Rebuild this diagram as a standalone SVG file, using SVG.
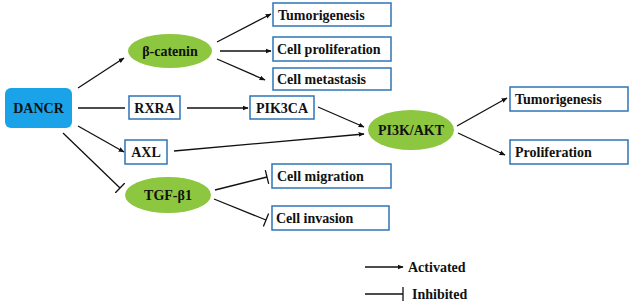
<svg xmlns="http://www.w3.org/2000/svg" width="631" height="304" viewBox="0 0 631 304">
<defs>
<style>
.box{fill:#fff;stroke:#2E75B6;stroke-width:1.5}
.ell{fill:#8DC63F;stroke:none}
.t{font-family:"Liberation Serif","Times New Roman",serif;font-weight:bold;font-size:14px;fill:#111}
.c{text-anchor:middle}
.ln{stroke:#111;stroke-width:1.3;fill:none}
.act{marker-end:url(#arr)}
.inh{marker-end:url(#bar)}
</style>
<marker id="arr" viewBox="0 0 10 10" refX="9" refY="5" markerWidth="6" markerHeight="6" markerUnits="userSpaceOnUse" orient="auto">
<path d="M0,1 L10,5 L0,9 Z" fill="#111"/>
</marker>
<marker id="bar" viewBox="0 0 4 14" refX="2" refY="7" markerWidth="4" markerHeight="14" markerUnits="userSpaceOnUse" orient="auto">
<line x1="2" y1="0" x2="2" y2="14" stroke="#111" stroke-width="1.3"/>
</marker>
</defs>
<rect width="631" height="304" fill="#fff"/>
<g id="connectors">
<line class="ln act" x1="78" y1="88" x2="124" y2="58"/>
<line class="ln act" x1="217" y1="42" x2="271" y2="14"/>
<line class="ln act" x1="220" y1="51" x2="271" y2="51"/>
<line class="ln act" x1="217" y1="59" x2="265" y2="80"/>
<line class="ln" x1="78" y1="108" x2="125" y2="108"/>
<line class="ln act" x1="187" y1="108" x2="248" y2="108"/>
<line class="ln act" x1="318" y1="107" x2="364" y2="127"/>
<line class="ln act" x1="174" y1="151" x2="364" y2="134"/>
<line class="ln act" x1="78" y1="126" x2="124" y2="152"/>
<line class="ln inh" x1="63" y1="133" x2="120" y2="188"/>
<line class="ln inh" x1="215" y1="190" x2="267" y2="177"/>
<line class="ln inh" x1="214" y1="199" x2="266" y2="220"/>
<line class="ln act" x1="457" y1="126" x2="507" y2="98"/>
<line class="ln act" x1="458" y1="133" x2="505" y2="155"/>
<line class="ln act" x1="365" y1="267" x2="403" y2="267"/>
<line class="ln inh" x1="365" y1="294" x2="403" y2="294"/>
</g>
<g id="DANCR">
<rect x="5" y="88" width="67" height="40" rx="6" fill="#1AA3E8"/>
<text class="t c" x="38.5" y="113">DANCR</text>
</g>
<g id="beta-catenin">
<ellipse class="ell" cx="170" cy="51" rx="42" ry="17"/>
<text class="t c" x="170" y="56">β-catenin</text>
</g>
<g id="tumorigenesis1">
<rect class="box" x="273" y="3" width="118" height="23"/>
<text class="t" x="278" y="19.5">Tumorigenesis</text>
</g>
<g id="cell-proliferation">
<rect class="box" x="273" y="37" width="118" height="24"/>
<text class="t" x="277" y="54">Cell proliferation</text>
</g>
<g id="cell-metastasis">
<rect class="box" x="273" y="68" width="118" height="22"/>
<text class="t" x="277" y="84">Cell metastasis</text>
</g>
<g id="RXRA">
<rect class="box" x="129" y="96" width="51" height="23"/>
<text class="t c" x="154.5" y="112.5">RXRA</text>
</g>
<g id="PIK3CA">
<rect class="box" x="250" y="96" width="64" height="23"/>
<text class="t c" x="282" y="112.5">PIK3CA</text>
</g>
<g id="AXL">
<rect class="box" x="125" y="140" width="42" height="24"/>
<text class="t c" x="146" y="157">AXL</text>
</g>
<g id="PI3K-AKT">
<ellipse class="ell" cx="411" cy="130" rx="43" ry="20"/>
<text class="t c" x="411" y="135">PI3K/AKT</text>
</g>
<g id="tumorigenesis2">
<rect class="box" x="510" y="87" width="118" height="24"/>
<text class="t" x="515" y="104">Tumorigenesis</text>
</g>
<g id="proliferation">
<rect class="box" x="510" y="140" width="118" height="24"/>
<text class="t" x="515" y="157">Proliferation</text>
</g>
<g id="TGF-beta1">
<ellipse class="ell" cx="168" cy="195" rx="43" ry="18"/>
<text class="t c" x="168" y="200">TGF-β1</text>
</g>
<g id="cell-migration">
<rect class="box" x="272" y="164" width="119" height="24"/>
<text class="t" x="277" y="181">Cell migration</text>
</g>
<g id="cell-invasion">
<rect class="box" x="272" y="206" width="117" height="24"/>
<text class="t" x="276" y="223">Cell invasion</text>
</g>
<g id="legend">
<text class="t" x="408" y="272">Activated</text>
<text class="t" x="412" y="299">Inhibited</text>
</g>
</svg>
